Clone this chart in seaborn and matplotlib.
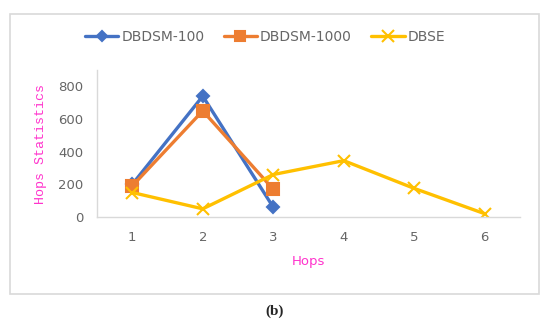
import matplotlib
matplotlib.use("Agg")
import matplotlib.pyplot as plt
import seaborn as sns
import pandas as pd
from matplotlib.patches import Rectangle
from matplotlib.lines import Line2D

hops = [1, 2, 3, 4, 5, 6]
dbdsm100 = [200, 740, 60]
dbdsm1000 = [190, 650, 170]
dbse = [150, 50, 260, 345, 175, 20]
series_names = ["DBDSM-100", "DBDSM-1000", "DBSE"]
y_ticks = [0, 200, 400, 600, 800]

sns.set_style("white")
plt.rcParams["font.family"] = ["DejaVu Sans"]

fig = plt.figure(figsize=(5.5, 3.25), dpi=100)
fig.patches.append(Rectangle((10 / 550, 1 - 294 / 325), 529 / 550, 280 / 325,
                             transform=fig.transFigure, fill=False,
                             edgecolor="#d9d9d9", linewidth=1.2))
ax = fig.add_axes([97 / 550, 1 - 217 / 325, 423 / 550, 147 / 325])

colors = ["#4472C4", "#ED7D31", "#FFC000"]
mk = ["D", "s", "x"]
msz = [6, 8, 9]
for name, vals, c, m, s in zip(series_names, [dbdsm100, dbdsm1000, dbse], colors, mk, msz):
    d = pd.DataFrame({"Hops": hops[:len(vals)], "value": vals})
    sns.lineplot(data=d, x="Hops", y="value", color=c, marker=m, markersize=s,
                 markerfacecolor=c, markeredgecolor=c, markeredgewidth=1.5,
                 linewidth=2.4, ax=ax, label=name, legend=False)

ax.set_xlim(0.5, 6.5)
ax.set_ylim(0, 900)
ax.set_xticks(hops)
ax.set_yticks(y_ticks)
ax.tick_params(axis="both", colors="#666666", labelsize=9.5, length=0, pad=10)
for s in ["top", "right"]:
    ax.spines[s].set_visible(False)
for s in ["left", "bottom"]:
    ax.spines[s].set_color("#d9d9d9")
    ax.spines[s].set_linewidth(1)
ax.set_xlabel("Hops", color="#FF33CC", fontsize=9.5, labelpad=8)
ax.set_ylabel("Hops Statistics", color="#FF33CC", fontsize=9.6,
              family=["Liberation Mono"], labelpad=8)

handles = [Line2D([], [], color=c, marker=m, linewidth=2.4,
                  markersize=s, markeredgewidth=1.5, markerfacecolor=c)
           for c, m, s in zip(colors, mk, [5.5, 7, 8])]
fig.legend(handles, series_names, loc="center", bbox_to_anchor=(265 / 550, 1 - 37 / 325),
           ncol=3, frameon=False, fontsize=10, labelcolor="#666666",
           handlelength=2.4, handletextpad=0.2, columnspacing=1.4)

fig.text(275 / 550, 1 - 311 / 325, "(b)", ha="center", va="center",
         fontsize=11, fontweight="bold", family=["Liberation Serif"])

fig.savefig("out.png", dpi=100)
